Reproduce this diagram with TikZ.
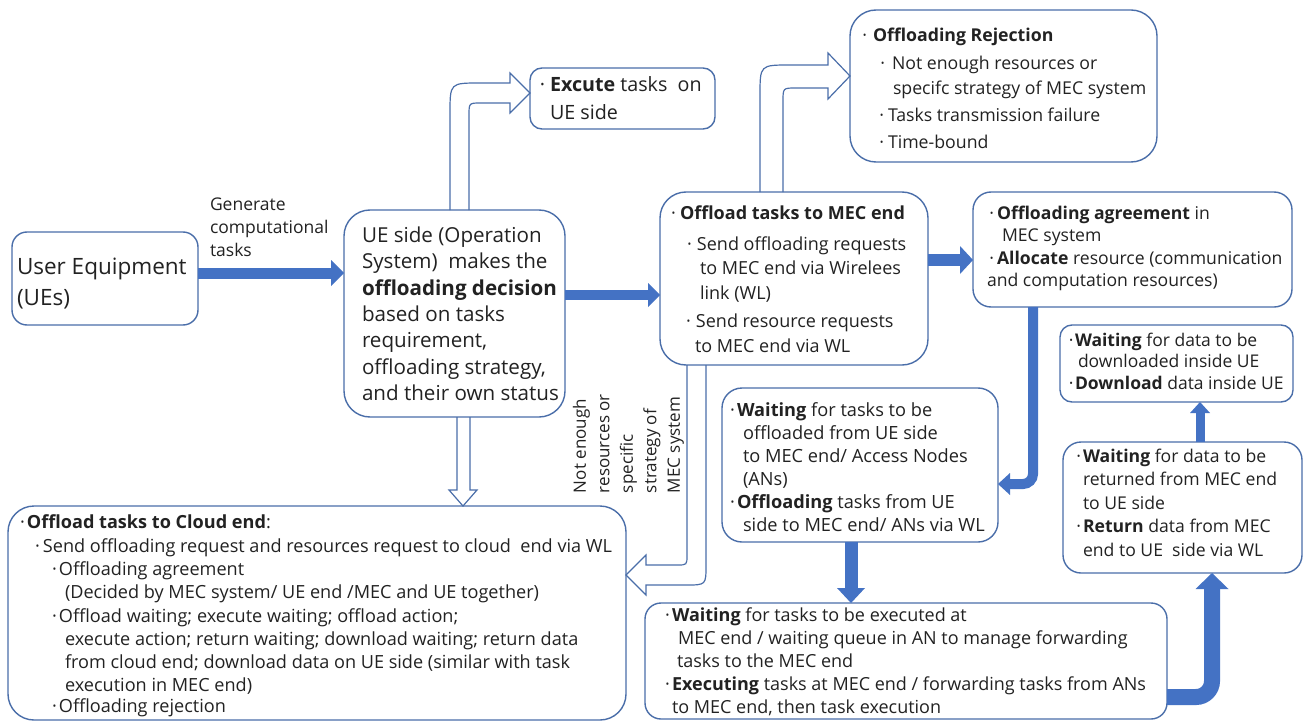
\documentclass[tikz,border=0pt]{standalone}
\usepackage{fontspec}
\setmainfont{Open Sans}
\usetikzlibrary{arrows.meta}
\definecolor{edgeblue}{HTML}{4A6EA9}
\definecolor{fillblue}{HTML}{4472C4}
\definecolor{ink}{HTML}{222222}
\newcommand\setfs[2]{\fontsize{#1}{#2}\selectfont}
% hanging bullet placed just left of the current point
\newcommand\hb[1][3pt]{\makebox[0pt][r]{·\hspace{#1}}}

\begin{document}
\begin{tikzpicture}[x=1pt,y=-1pt,
  box/.style={draw=edgeblue, line width=1.4pt, fill=white, anchor=north west,
    inner sep=0pt, outer sep=0pt},
  txt/.style={anchor=north west, align=left, inner sep=0pt, outer sep=0pt, text=ink},
  fat/.style n args={3}{draw=fillblue, line width=#1,
    arrows={-Triangle[length=#2, width=#3, line width=0pt]}},
  hollow/.style={draw=edgeblue, line width=1.2pt, line join=miter}]

\fill[white] (0,0) rectangle (1305,722);
\useasboundingbox (0,0) rectangle (1305,722);

% ---- boxes ----
\node[box, minimum width=186pt, minimum height=93pt, rounded corners=15pt] (ue) at (12,232) {};
\node[box, minimum width=221pt, minimum height=207pt, rounded corners=26pt] (dec) at (344,210) {};
\node[box, minimum width=185pt, minimum height=61pt, rounded corners=12pt] (exe) at (530,68) {};
\node[box, minimum width=307pt, minimum height=152pt, rounded corners=26pt] (rej) at (850,10) {};
\node[box, minimum width=268pt, minimum height=173pt, rounded corners=26pt] (mec) at (660,192) {};
\node[box, minimum width=319pt, minimum height=115pt, rounded corners=18pt] (agr) at (973,192) {};
\node[box, minimum width=233pt, minimum height=77pt, rounded corners=12pt] (dl) at (1060,325) {};
\node[box, minimum width=239pt, minimum height=131pt, rounded corners=18pt] (ret) at (1063,442) {};
\node[box, minimum width=276pt, minimum height=154pt, rounded corners=20pt] (ans) at (722,388) {};
\node[box, minimum width=522pt, minimum height=116pt, rounded corners=16pt] (exm) at (645,603) {};
\node[box, minimum width=618pt, minimum height=214pt, rounded corners=26pt] (cld) at (8,506) {};

% ---- texts ----
\node[txt, font=\setfs{22.5}{31}] (uet) at (17,258) {User Equipment\\(UEs)};
\node[txt, font=\setfs{17.5}{23}] (gen) at (210,198) {Generate\\computational\\tasks};
\node[txt, font=\setfs{20.6}{26.3}] (dect) at (362,227)
  {UE side (Operation\\System)\ \ makes the\\\textbf{offloading decision}\\based on tasks\\requirement,\\offloading strategy,\\and their own status};
\node[txt, font=\setfs{19.7}{28}] (exet) at (550,77)
  {\hb[5pt]\textbf{Excute} tasks\ \ on\\UE side};
\node[txt, font=\setfs{17.7}{25.5}] (rejt) at (873,28)
  {\hb[6pt]\textbf{Offloading Rejection}\\[2pt]
   \hspace*{19pt}\hb[7pt]Not enough resources or\\
   \hspace*{20pt}specifc strategy of MEC system\\[1pt]
   \hspace*{15pt}\hb[4pt]Tasks transmission failure\\[2pt]
   \hspace*{15pt}\hb[4pt]Time-bound};
\node[txt, font=\setfs{18}{24.5}] (mect) at (680,206)
  {\hb[4pt]\textbf{Offload tasks to MEC end}\\[6pt]
   \hspace*{17pt}\hb[5pt]Send offloading requests\\
   \hspace*{20pt}to MEC end via Wirelees\\
   \hspace*{20pt}link (WL)\\[4pt]
   \hspace*{16pt}\hb[5pt]Send resource requests\\
   \hspace*{15pt}to MEC end via WL};
\node[txt, font=\setfs{17.6}{22.3}] (agrt) at (987,206)
  {\hspace*{10pt}\hb[3pt]\textbf{Offloading agreement} in\\
   \hspace*{15pt}MEC system\\
   \hspace*{10pt}\hb[3pt]\textbf{Allocate} resource (communication\\
   and computation resources)};
\node[txt, font=\setfs{17.5}{21.5}] (dlt) at (1075,333)
  {\hb[1.5pt]\textbf{Waiting} for data to be\\
   \hspace*{3pt}downloaded inside UE\\
   \hb[1.5pt]\textbf{Download} data inside UE};
\node[txt, font=\setfs{17.6}{23.5}] (rett) at (1083,449)
  {\hb[2pt]\textbf{Waiting} for data to be\\
   returned from MEC end\\
   to UE side\\
   \hb[2pt]\textbf{Return} data from MEC\\
   end to UE\ \ side via WL};
\node[txt, font=\setfs{18.2}{23}] (anst) at (737,403)
  {\hb[2pt]\textbf{Waiting} for tasks to be\\
   \hspace*{6pt}offloaded from UE side\\
   \hspace*{6pt}to MEC end/ Access Nodes\\
   \hspace*{6pt}(ANs)\\
   \hb[2pt]\textbf{Offloading} tasks from UE\\
   \hspace*{6pt}side to MEC end/ ANs via WL};
\node[txt, font=\setfs{18}{23}] (exmt) at (672,608)
  {\hb[2pt]\textbf{Waiting} for tasks to be executed at\\
   \hspace*{6pt}MEC end / waiting queue in AN to manage forwarding\\
   \hspace*{5pt}tasks to the MEC end\\
   \hb[2pt]\textbf{Executing} tasks at MEC end / forwarding tasks from ANs\\
   to MEC end, then task execution};
\node[txt, font=\setfs{18.1}{23.3}] (cldt) at (27,515)
  {\hb[2pt]\textbf{Offload tasks to Cloud end}:\\
   \hspace*{16pt}\hb[3pt]Send offloading request and resources request to cloud\ \ end via WL\\
   \hspace*{32pt}\hb[2pt]Offloading agreement\\
   \hspace*{38pt}(Decided by MEC system/ UE end /MEC and UE together)\\
   \hspace*{32pt}\hb[2pt]Offload waiting; execute waiting; offload action;\\
   \hspace*{38pt}execute action; return waiting; download waiting; return data\\
   \hspace*{38pt}from cloud end; download data on UE side (similar with task\\
   \hspace*{38pt}execution in MEC end)\\[-3pt]
   \hspace*{32pt}\hb[2pt]Offloading rejection};
\node[txt, font=\setfs{17}{23.5}, rotate=90] (rejlbl) at (573,493)
  {Not enough\\resources or\\specific\\strategy of\\MEC system};

% ---- filled arrows ----
\coordinate (a1) at ([yshift=5.5pt]ue.east);
\draw[fat={11pt}{13pt}{26pt}] (a1) -- (a1 -| dec.west);
\coordinate (a2) at ([yshift=18.5pt]dec.east);
\draw[fat={10pt}{12pt}{24pt}] (a2) -- (a2 -| mec.west);
\coordinate (a3) at ([yshift=18.5pt]mec.east);
\draw[fat={12pt}{13pt}{28pt}] (a3) -- (a3 -| agr.west);
\coordinate (a4) at ([xshift=60pt]agr.south west);
\coordinate (a4e) at ([yshift=-19pt]ans.east);
\draw[fat={10pt}{12pt}{22pt}, rounded corners=10pt] (a4) |- (a4e);
\coordinate (a5) at ([xshift=-9pt]ans.south);
\draw[fat={13pt}{15pt}{28pt}] (a5) -- (a5 |- exm.north);
\coordinate (a6) at ([yshift=-36pt]exm.east);
\coordinate (a6e) at ([xshift=29.5pt]ret.south);
\draw[fat={16pt}{16pt}{33pt}, rounded corners=16pt] (a6) -| (a6e);
\coordinate (a7) at ([xshift=17.5pt]ret.north);
\draw[fat={9pt}{11pt}{20pt}] (a7) -- (a7 |- dl.south);

% ---- hollow arrows ----
\draw[hollow] (450,0 |- dec.north) -- (450,113) .. controls (450,83) .. (480,83)
  -- (510,83) -- (510,73) -- (exe.west |- 0,93) -- (510,113) -- (510,103)
  -- (481,103) .. controls (469,103) .. (469,115) -- (469,0 |- dec.north);
\draw[hollow] (760,0 |- mec.north) -- (760,95) .. controls (760,65) .. (790,65)
  -- (828,65) -- (828,53) -- (rej.west |- 0,76) -- (828,99) -- (828,88)
  -- (796,88) .. controls (783,88) .. (783,101) -- (783,0 |- mec.north);
\draw[hollow] (457,0 |- dec.south) -- (457,490) -- (449,490) -- (463,0 |- cld.north)
  -- (477,490) -- (470,490) -- (470,0 |- dec.south);
\draw[hollow] (687,0 |- mec.south) -- (687,555) .. controls (687,565) .. (677,565)
  -- (646,565) -- (646,555) -- (cld.east |- 0,575) -- (646,595) -- (646,585)
  -- (686,585) .. controls (706,585) .. (706,565) -- (706,0 |- mec.south);
\end{tikzpicture}
\end{document}
